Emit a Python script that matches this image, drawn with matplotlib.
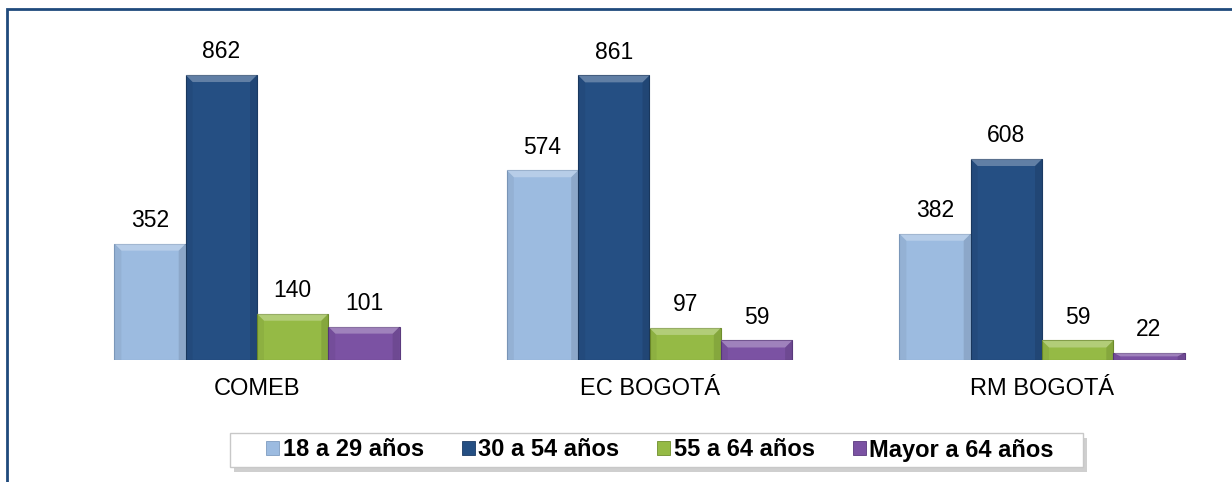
import numpy as np
import matplotlib
matplotlib.use("Agg")
import matplotlib.pyplot as plt
from matplotlib.patches import Rectangle, Polygon

plt.rcParams['font.family'] = ['Liberation Sans', 'DejaVu Sans']

# datos del grafico
grupos = ['COMEB', 'EC BOGOTÁ', 'RM BOGOTÁ']
series = ['18 a 29 años', '30 a 54 años', '55 a 64 años', 'Mayor a 64 años']
v_18_29 = [352, 574, 382]
v_30_54 = [862, 861, 608]
v_55_64 = [140, 97, 59]
v_mayor_64 = [101, 59, 22]
valores = [v_18_29, v_30_54, v_55_64, v_mayor_64]

colores = ['#9cbbe0', '#254f83', '#95ba45', '#7b52a3']
bordes = ['#7f9cc0', '#1b3a63', '#6f8e2c', '#5b3a7e']

W, H = 1232, 482
fig = plt.figure(figsize=(W / 100, H / 100), dpi=100)
ax = fig.add_axes([0, 122 / H, 1, 360 / H])

x = np.arange(len(grupos))
ancho = 0.1817
px_x = 1 / 392.5          # unidades de datos por pixel en x
px_y = 1 / 0.3306         # unidades de datos por pixel en y

for i, (vals, c, b) in enumerate(zip(valores, colores, bordes)):
    barras = ax.bar(x + (i - 1.5) * ancho, vals, ancho, color=c,
                    edgecolor=b, linewidth=0.8, zorder=2)
    # efecto biselado simple sobre cada barra
    for r in barras:
        x0, y0 = r.get_x(), r.get_y()
        w, h = r.get_width(), r.get_height()
        d_x = min(7 * px_x, w / 3)
        d_y = min(7 * px_y, h / 2)
        arriba = Polygon([(x0, y0 + h), (x0 + w, y0 + h),
                          (x0 + w - d_x, y0 + h - d_y), (x0 + d_x, y0 + h - d_y)],
                         closed=True, facecolor='white', alpha=0.28,
                         edgecolor='none', zorder=3)
        ax.add_patch(arriba)
        derecha = Polygon([(x0 + w, y0), (x0 + w, y0 + h),
                           (x0 + w - d_x, y0 + h - d_y), (x0 + w - d_x, y0)],
                          closed=True, facecolor='black', alpha=0.10,
                          edgecolor='none', zorder=3)
        ax.add_patch(derecha)
        izquierda = Polygon([(x0, y0), (x0, y0 + h),
                             (x0 + d_x, y0 + h - d_y), (x0 + d_x, y0)],
                            closed=True, facecolor='black', alpha=0.05,
                            edgecolor='none', zorder=3)
        ax.add_patch(izquierda)
        ax.annotate(f"{int(h)}", (x0 + w / 2, h), xytext=(0, 12),
                    textcoords='offset points', ha='center', va='baseline',
                    fontsize=16.5, color='black', zorder=4)

ax.set_xlim(-257 / 392.5, (W - 257) / 392.5)
ax.set_ylim(0, 360 * px_y)
ax.set_xticks(x)
ax.set_xticklabels(grupos, fontsize=17)
ax.tick_params(axis='x', length=0, pad=13)
ax.set_yticks([])
for s in ax.spines.values():
    s.set_visible(False)
ax.patch.set_alpha(0)

# marco exterior (solo visible arriba y a la izquierda)
marco = Rectangle((6.5 / W, -0.2), 1.2, 1 - 9 / H + 0.2, transform=fig.transFigure,
                  fill=False, edgecolor='#1f4a7c', linewidth=2.0, zorder=0)
fig.add_artist(marco)

# caja de la leyenda con sombra
sombra = Rectangle((234 / W, 1 - 472 / H), 853 / W, 34 / H, transform=fig.transFigure,
                   facecolor='#b0b0b0', edgecolor='none', alpha=0.6, zorder=1)
caja = Rectangle((230 / W, 1 - 467 / H), 853 / W, 34 / H, transform=fig.transFigure,
                 facecolor='white', edgecolor='#c8c8c8', linewidth=1.0, zorder=2)
fig.add_artist(sombra)
fig.add_artist(caja)

handles = [Rectangle((0, 0), 1, 1, facecolor=c, edgecolor=b, linewidth=0.6)
           for c, b in zip(colores, bordes)]
leg = fig.legend(handles, series, loc='center', bbox_to_anchor=(660 / W, 1 - 450 / H),
                 ncol=4, frameon=False,
                 prop={'weight': 'bold', 'size': 17},
                 handlelength=0.55, handleheight=0.55, handletextpad=0.15,
                 columnspacing=1.6, borderpad=0.2)
leg.set_zorder(3)

fig.savefig('out.png', dpi=100)
